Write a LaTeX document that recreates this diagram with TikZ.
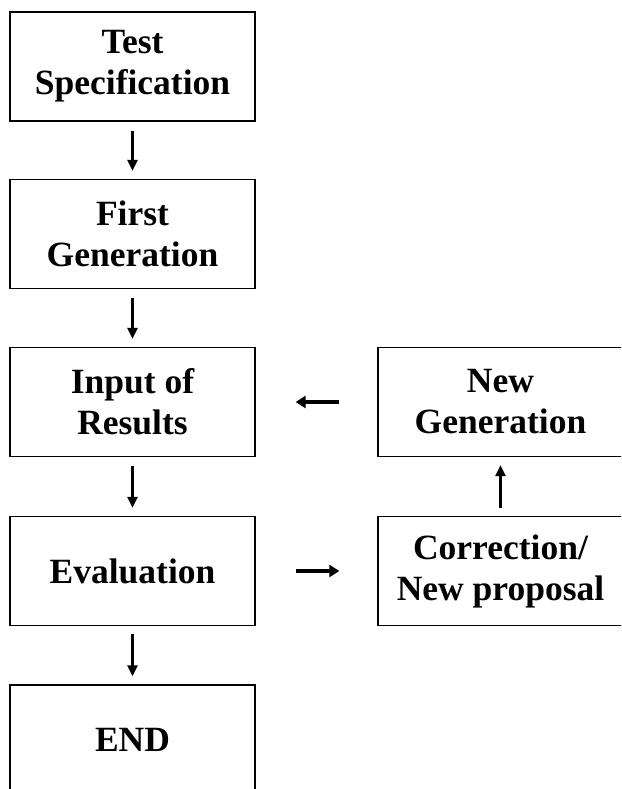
\documentclass[tikz,border=0pt]{standalone}
\usepackage{fontspec}
\setmainfont{Liberation Serif}
\usetikzlibrary{arrows.meta,positioning}

\begin{document}
\begin{tikzpicture}[
    x=1pt, y=-1pt,
    draw=black,
    %
    cell/.style={draw=black, rectangle, line width=1.3pt, minimum width=245pt,
                 minimum height=109pt, align=center, inner sep=0pt,
                 font=\fontsize{35.5}{41}\selectfont\bfseries},
    %
    pre/.style={-{Triangle[length=11pt,width=10pt]}, line width=2.6pt},
    side/.style={-{Triangle[length=10pt,width=12pt]}, line width=3.6pt}
    ]

    \useasboundingbox (0,0) rectangle (621,789);
    \clip (0,0) rectangle (621,789);

    \node[cell] (spec)     at (132.5,66.5) {Test\\Specification};
    \node[cell] (firstgen) at (132.5,234)  {First\\Generation};
    \node[cell] (input)    at (132.5,402)  {Input of\\Results};
    \node[cell] (eval)     at (132.5,571)  {Evaluation};
    \node[cell] (theend)   at (132.5,739.5) {END};
    \node[cell] (newgen)   at (500.5,402)  {New\\Generation};
    \node[cell] (correct)  at (500.5,571)  {Correction/\\New proposal};
    %
    \draw[pre, shorten <=9pt, shorten >=8pt] (spec) -- (firstgen);
    \draw[pre, shorten <=9pt, shorten >=8pt] (firstgen) -- (input);
    \draw[pre, shorten <=9pt, shorten >=8pt] (input) -- (eval);
    \draw[pre, shorten <=8pt, shorten >=8pt] (eval) -- (theend);
    \draw[pre, shorten <=8pt, shorten >=8pt] (correct) -- (newgen);
    \draw[side, shorten <=38pt, shorten >=40pt] (newgen) -- (input);
    \draw[side, shorten <=40pt, shorten >=38pt] (eval) -- (correct);

\end{tikzpicture}
\end{document}
